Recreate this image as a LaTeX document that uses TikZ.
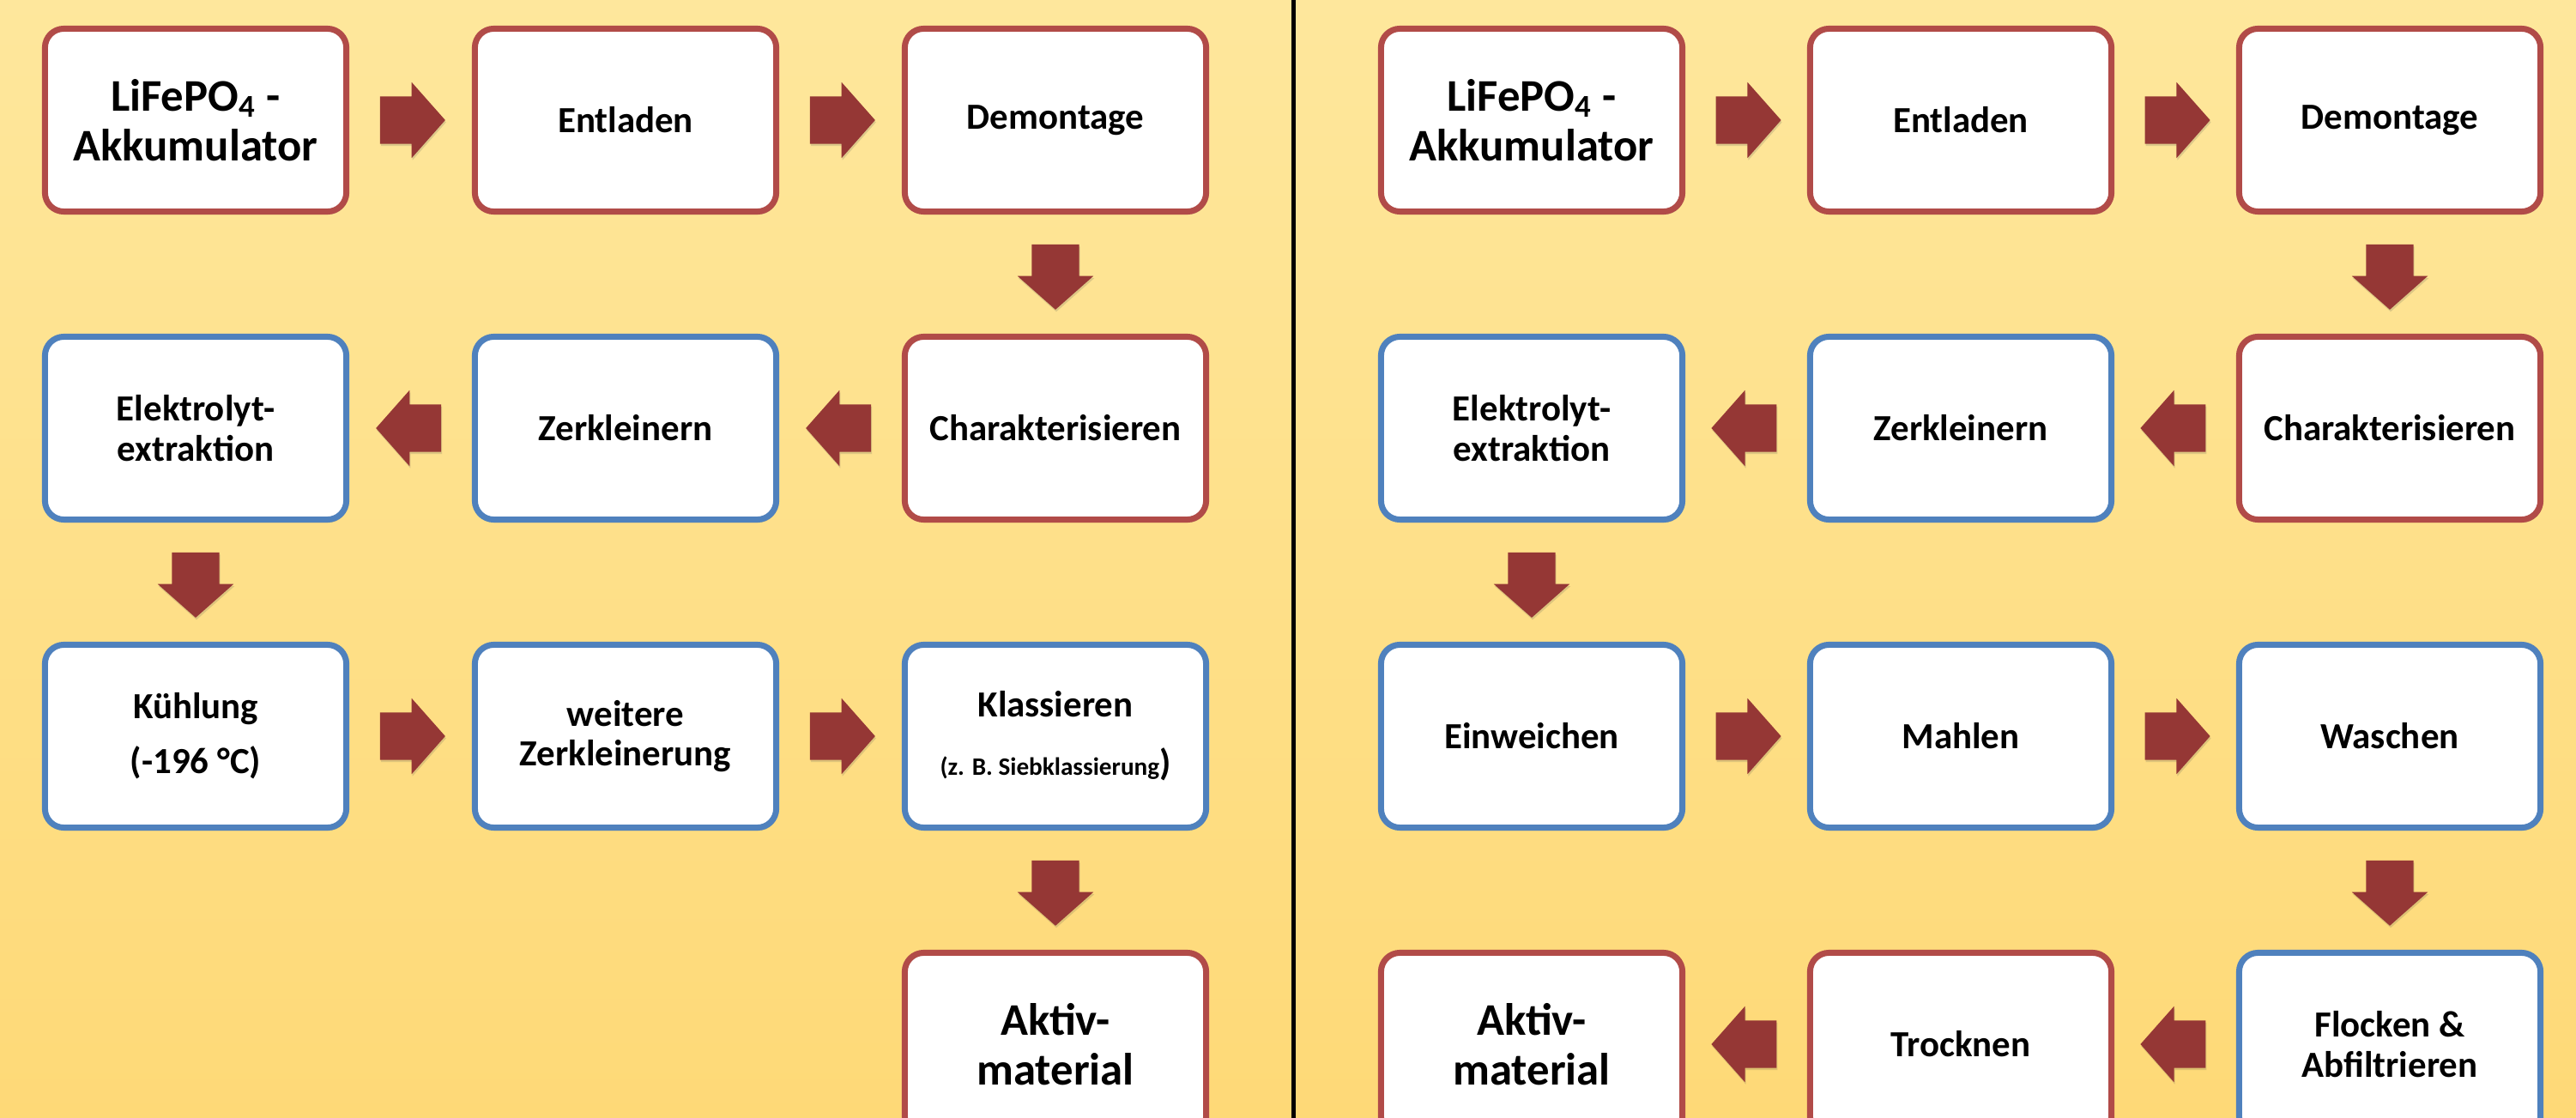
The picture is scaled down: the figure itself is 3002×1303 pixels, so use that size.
\documentclass[tikz,border=0pt]{standalone}
\usepackage{fontspec}
\setmainfont{Carlito}
\usepackage{tikz}
\usetikzlibrary{shapes.arrows,shadows}
\definecolor{BgTop}{HTML}{FEE79C}
\definecolor{BgBottom}{HTML}{FED977}
\definecolor{BoxRed}{HTML}{B14B48}
\definecolor{BoxBlue}{HTML}{4F81BD}
\definecolor{ArrowRed}{HTML}{953735}

\begin{document}
\begin{tikzpicture}[
  x=0.01cm, y=-0.01cm,
  procbox/.style={
    fill=white, line width=0.07cm, rounded corners=0.22cm,
    minimum width=3.51cm, minimum height=2.13cm, align=center,
    font=\bfseries\fontsize{12.2}{13.3}\selectfont, inner sep=2pt,
    drop shadow={shadow xshift=0.015cm, shadow yshift=-0.035cm, opacity=0.22, fill=black!70}
  },
  procred/.style={procbox, draw=BoxRed},
  procblue/.style={procbox, draw=BoxBlue},
  bigtext/.style={font=\bfseries\fontsize{15}{16.6}\selectfont},
  flowarrow/.style={
    single arrow, fill=ArrowRed, draw=none, inner xsep=0pt, inner ysep=0.27cm,
    minimum height=0.76cm, minimum width=0.87cm,
    single arrow head extend=0.165cm, single arrow tip angle=97,
    single arrow head indent=0pt, sloped, allow upside down,
    anchor=tail, pos=0.245,
    drop shadow={shadow xshift=0.01cm, shadow yshift=-0.025cm, opacity=0.18, fill=black!70}
  },
  divider/.style={draw=black, line width=0.05cm},
]

% ---------- Background ----------
\useasboundingbox (0,0) rectangle (3002,1303);
\clip (0,0) rectangle (3002,1303);
\fill[top color=BgTop, bottom color=BgBottom] (0,0) rectangle (3002,1303);

% ---------- Left process chain ----------
% Row 1 (y = 140)
\node[procred, bigtext] (l_akku)  at (228,140)  {LiFePO\textsubscript{4} -\\Akkumulator};
\node[procred]          (l_entl)  at (729,140)  {Entladen};
\node[procred]          (l_demo)  at (1230,140) {Demontage};
% Row 2 (y = 499)
\node[procblue]         (l_elek)  at (228,499)  {Elektrolyt-\\extraktion};
\node[procblue]         (l_zerk)  at (729,499)  {Zerkleinern};
\node[procred]          (l_char)  at (1230,499) {Charakterisieren};
% Row 3 (y = 858)
\node[procblue]         (l_kuehl) at (228,858)  {Kühlung\\[5pt](-196 °C)};
\node[procblue]         (l_weit)  at (729,858)  {weitere\\Zerkleinerung};
\node[procblue]         (l_klass) at (1230,858) {Klassieren\\[6pt]{\fontsize{8.3}{10}\selectfont(z. B. Siebklassierung})};
% Row 4 (y = 1217)
\node[procred, bigtext] (l_aktiv) at (1230,1217) {Aktiv-\\material};

% ---------- Right process chain ----------
% Row 1
\node[procred, bigtext] (r_akku)  at (1785,140)  {LiFePO\textsubscript{4} -\\Akkumulator};
\node[procred]          (r_entl)  at (2285,140)  {Entladen};
\node[procred]          (r_demo)  at (2785,140)  {Demontage};
% Row 2
\node[procblue]         (r_elek)  at (1785,499)  {Elektrolyt-\\extraktion};
\node[procblue]         (r_zerk)  at (2285,499)  {Zerkleinern};
\node[procred]          (r_char)  at (2785,499)  {Charakterisieren};
% Row 3
\node[procblue]         (r_einw)  at (1785,858)  {Einweichen};
\node[procblue]         (r_mahl)  at (2285,858)  {Mahlen};
\node[procblue]         (r_wasch) at (2785,858)  {Waschen};
% Row 4
\node[procred, bigtext] (r_aktiv) at (1785,1217) {Aktiv-\\material};
\node[procred]          (r_trock) at (2285,1217) {Trocknen};
\node[procblue]         (r_flock) at (2785,1217) {Flocken \&\\Abfiltrieren};

% ---------- Divider ----------
\coordinate (div_top) at (1507,0);
\coordinate (div_bot) at (1507,1303);
\draw[divider] (div_top) -- (div_bot);

% ---------- Flow arrows ----------
\foreach \a/\b in {l_akku/l_entl,l_entl/l_demo,l_demo/l_char,l_char/l_zerk,l_zerk/l_elek,
                   l_elek/l_kuehl,l_kuehl/l_weit,l_weit/l_klass,l_klass/l_aktiv}
  \path (\a) -- node[flowarrow] {} (\b);

\foreach \a/\b in {r_akku/r_entl,r_entl/r_demo,r_demo/r_char,r_char/r_zerk,r_zerk/r_elek,
                   r_elek/r_einw,r_einw/r_mahl,r_mahl/r_wasch,r_wasch/r_flock,
                   r_flock/r_trock,r_trock/r_aktiv}
  \path (\a) -- node[flowarrow] {} (\b);

\end{tikzpicture}
\end{document}
